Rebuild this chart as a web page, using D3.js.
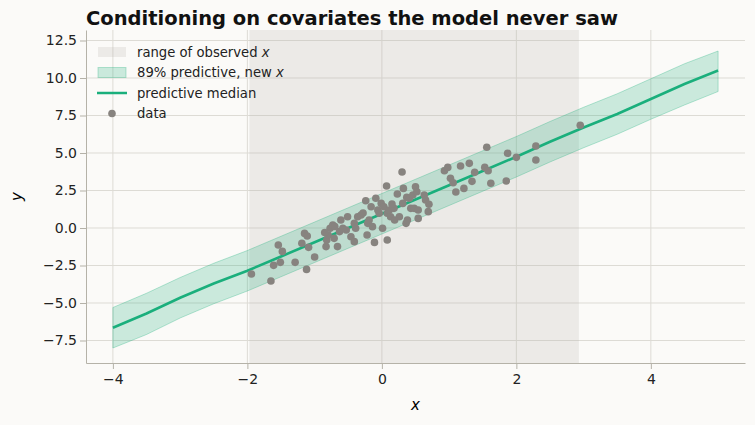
<!DOCTYPE html><html><head><meta charset="utf-8">
<script src="https://cdn.jsdelivr.net/npm/d3@7"></script>
<style>body{margin:0;background:#fbfaf8;font-family:"DejaVu Sans",sans-serif}</style></head><body>
<svg id="c" width="755" height="425"></svg>
<script>
const obsRange=[-1.97,2.93];
const gridX=[-4,-3.5,-3,-2.5,-2,-1.5,-1,-0.5,0,0.5,1,1.5,2,2.5,3,3.5,4,4.5,5];
const median=[-6.65,-5.7,-4.65,-3.7,-2.85,-1.9,-0.95,0.0,0.95,1.9,2.85,3.8,4.75,5.75,6.7,7.6,8.6,9.6,10.5];
const lower=[-8.0,-7.1,-6.0,-5.05,-4.2,-3.25,-2.3,-1.35,-0.4,0.55,1.5,2.45,3.4,4.4,5.35,6.25,7.25,8.2,9.1];
const upper=[-5.3,-4.35,-3.3,-2.35,-1.5,-0.55,0.4,1.35,2.3,3.25,4.2,5.15,6.1,7.1,8.05,8.95,9.95,10.95,11.8];
const dataX=[-1.94,-1.65,-1.61,-1.54,-1.48,-1.51,-1.29,-1.12,-1.0,-1.19,-1.15,-1.11,-1.09,-0.83,-0.82,-0.8,-0.77,-0.73,-0.71,-0.66,-0.61,-0.63,-0.58,-0.53,-0.51,-0.46,-0.41,-0.39,-0.36,-0.31,-0.24,-0.21,-0.22,-0.19,-0.16,-0.14,-0.11,-0.09,-0.06,-0.04,-0.01,0.01,0.03,0.07,0.08,0.08,0.11,0.13,0.18,0.19,0.23,0.26,0.3,0.31,0.32,0.36,0.37,0.38,0.41,0.43,0.46,0.48,0.5,0.52,0.54,0.54,0.63,0.65,0.69,0.7,0.93,0.98,1.02,1.06,1.1,1.17,1.22,1.3,1.34,1.38,1.53,1.56,1.58,1.62,1.85,1.87,2.0,2.29,2.29,2.95,-0.41,-0.85,-0.7,0.15,-0.28];
const dataY=[-3.07,-3.53,-2.49,-1.13,-1.56,-2.29,-2.29,-2.76,-1.93,-1.02,-0.36,-0.53,-1.29,-1.24,-0.8,-0.47,-0.02,0.2,-0.69,-1.24,0.53,-0.24,-0.02,-0.13,0.75,-0.58,-0.91,-0.02,0.75,0.87,1.82,0.31,-0.47,0.53,1.42,0.09,-0.96,1.98,1.2,0.98,1.64,-0.02,1.42,2.8,-0.8,0.98,1.2,0.75,1.31,0.53,2.27,0.75,3.73,1.64,2.64,0.31,2.04,0.53,1.98,1.31,2.2,1.31,2.75,2.42,0.64,1.2,2.2,1.87,1.09,1.58,3.82,4.04,3.31,3.02,2.4,4.13,2.64,4.31,3.11,3.71,4.04,5.38,3.82,2.98,3.13,4.98,4.71,5.47,4.53,6.85,0.31,-0.3,0.1,1.6,1.0];
const xTicks=[-4,-2,0,2,4];
const yTicks=[-7.5,-5,-2.5,0,2.5,5,7.5,10,12.5];
const green="#1aaf7c";
const svg=d3.select("#c");
const m={l:86,r:745,t:30,b:363};
const x=d3.scaleLinear().domain([-4.4,5.4]).range([m.l,m.r]);
const y=d3.scaleLinear().domain([-9.0,13.2]).range([m.b,m.t]);
svg.append("text").attr("x",86).attr("y",25).attr("font-weight","bold").attr("font-size",19.5).attr("fill","#111").text("Conditioning on covariates the model never saw");
const g=svg.append("g");
g.selectAll(".gx").data(xTicks).join("line").attr("x1",d=>x(d)).attr("x2",d=>x(d)).attr("y1",m.t).attr("y2",m.b).attr("stroke","#dddbd5").attr("stroke-width",1);
g.selectAll(".gy").data(yTicks).join("line").attr("y1",d=>y(d)).attr("y2",d=>y(d)).attr("x1",m.l).attr("x2",m.r).attr("stroke","#dddbd5").attr("stroke-width",1);
g.append("rect").attr("x",x(obsRange[0])).attr("width",x(obsRange[1])-x(obsRange[0])).attr("y",m.t).attr("height",m.b-m.t).attr("fill","#b8b2ad").attr("fill-opacity",0.22);
const pts=gridX.map((d,i)=>({x:d,m:median[i],lo:lower[i],hi:upper[i]}));
g.append("path").datum(pts).attr("d",d3.area().x(d=>x(d.x)).y0(d=>y(d.lo)).y1(d=>y(d.hi))).attr("fill",green).attr("fill-opacity",0.22).attr("stroke",green).attr("stroke-opacity",0.3);
g.append("path").datum(pts).attr("d",d3.line().x(d=>x(d.x)).y(d=>y(d.m))).attr("fill","none").attr("stroke",green).attr("stroke-width",2.5);
g.selectAll("circle.d").data(dataX).join("circle").attr("cx",d=>x(d)).attr("cy",(d,i)=>y(dataY[i])).attr("r",3.8).attr("fill","#87837f");
const ax=svg.append("g").attr("transform",`translate(0,${m.b})`).call(d3.axisBottom(x).tickValues(xTicks).tickFormat(d=>d<0?"−"+Math.abs(d):d).tickSizeOuter(0).tickPadding(5));
const ay=svg.append("g").attr("transform",`translate(${m.l},0)`).call(d3.axisLeft(y).tickValues(yTicks).tickFormat(d=>(d<0?"−":"")+Math.abs(d).toFixed(1)).tickSizeOuter(0));
[ax,ay].forEach(a=>{a.selectAll("path,line").attr("stroke","#b5b2a8");a.selectAll("text").attr("font-size",14).attr("fill","#222").attr("font-family","DejaVu Sans");});
svg.append("text").attr("x",(m.l+m.r)/2).attr("y",410).attr("text-anchor","middle").attr("font-size",15).attr("font-style","italic").text("x");
svg.append("text").attr("transform",`translate(22,${(m.t+m.b)/2}) rotate(-90)`).attr("text-anchor","middle").attr("font-size",15).attr("font-style","italic").text("y");
const L=svg.append("g").attr("font-size",13.2).attr("fill","#222");
const items=[["range of observed ","x"],["89% predictive, new ","x"],["predictive median",""],["data",""]];
items.forEach((it,i)=>{const yy=52+i*20.5;
 if(i==0)L.append("rect").attr("x",98).attr("y",yy-5).attr("width",28).attr("height",10).attr("fill","#b8b2ad").attr("fill-opacity",0.22);
 if(i==1)L.append("rect").attr("x",98).attr("y",yy-5).attr("width",28).attr("height",10).attr("fill",green).attr("fill-opacity",0.22).attr("stroke",green).attr("stroke-opacity",0.3);
 if(i==2)L.append("line").attr("x1",97).attr("x2",127).attr("y1",yy).attr("y2",yy).attr("stroke",green).attr("stroke-width",2.5);
 if(i==3)L.append("circle").attr("cx",112).attr("cy",yy).attr("r",3.8).attr("fill","#87837f");
 const t=L.append("text").attr("x",137).attr("y",yy+4.5).text(it[0]);
 if(it[1])t.append("tspan").attr("font-style","italic").text(it[1]);
});
</script></body></html>
